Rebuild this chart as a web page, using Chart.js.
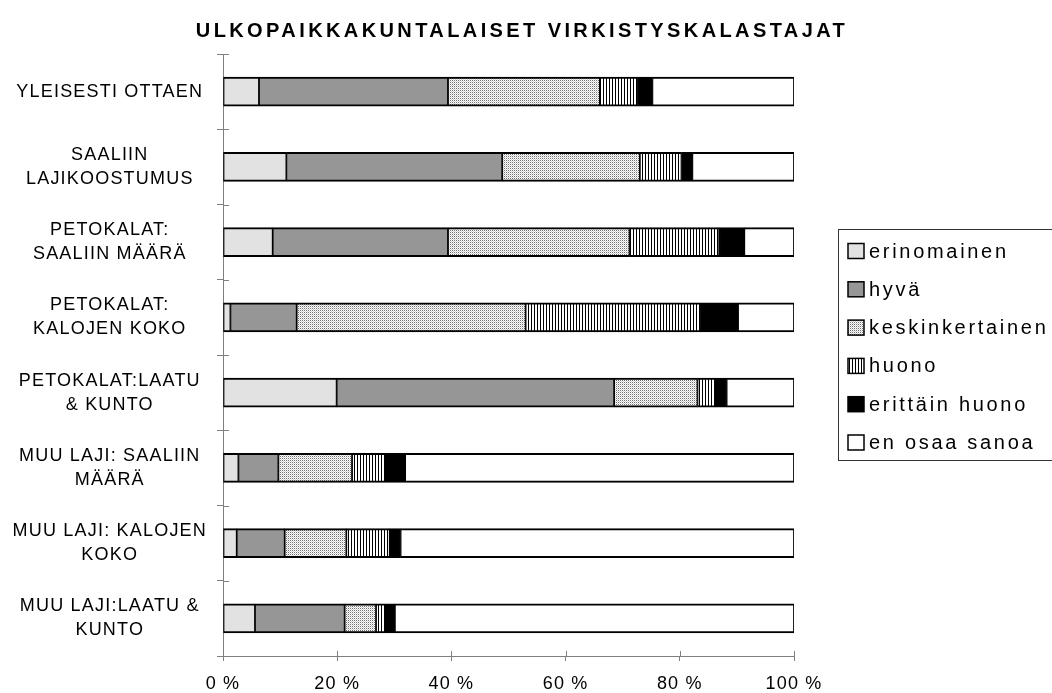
<!DOCTYPE html>
<html>
<head>
<meta charset="utf-8">
<script src="https://cdn.jsdelivr.net/npm/chart.js@4.4.1/dist/chart.umd.min.js"></script>
<style>
  html, body { margin: 0; padding: 0; background: #ffffff; }
</style>
</head>
<body>
<canvas id="kalastajat" width="1052" height="693"></canvas>
<script>
        // <![CDATA[

        var otsikko = "ULKOPAIKKAKUNTALAISET VIRKISTYSKALASTAJAT";

        var kysymykset = [
                "YLEISESTI OTTAEN",
                ["SAALIIN", "LAJIKOOSTUMUS"],
                ["PETOKALAT:", "SAALIIN MÄÄRÄ"],
                ["PETOKALAT:", "KALOJEN KOKO"],
                ["PETOKALAT:LAATU", "& KUNTO"],
                ["MUU LAJI: SAALIIN", "MÄÄRÄ"],
                ["MUU LAJI: KALOJEN", "KOKO"],
                ["MUU LAJI:LAATU &", "KUNTO"]
        ];

        var sarjat = ["erinomainen", "hyvä", "keskinkertainen", "huono", "erittäin huono", "en osaa sanoa"];

        // osuudet prosentteina, yksi arvo per kysymys
        var erinomainen   = [6.3, 11.1, 8.7, 1.3, 19.9, 2.7, 2.4, 5.6];
        var hyva          = [33.1, 37.8, 30.7, 11.6, 48.6, 7.0, 8.4, 15.7];
        var keskinkert    = [26.6, 24.1, 31.8, 40.1, 14.6, 12.9, 10.8, 5.5];
        var huono         = [6.6, 7.3, 15.7, 30.7, 3.2, 5.8, 7.6, 1.6];
        var erittainHuono = [2.6, 1.9, 4.4, 6.5, 1.9, 3.5, 1.9, 1.7];
        var enOsaa        = [24.8, 17.8, 8.7, 9.8, 11.8, 68.1, 68.9, 69.9];

        var prosentit = [0, 20, 40, 60, 80, 100];

        // rasterit: pisteet ja pystyviivat
        function teePisteet() {
                var c = document.createElement('canvas');
                c.width = 2; c.height = 2;
                var g = c.getContext('2d');
                g.fillStyle = "#ffffff";
                g.fillRect(0, 0, 2, 2);
                g.fillStyle = "#707070";
                g.fillRect(0, 0, 1, 1);
                g.fillStyle = "#d0d0d0";
                g.fillRect(1, 1, 1, 1);
                return g.createPattern(c, 'repeat');
        }
        function teeViivat() {
                var c = document.createElement('canvas');
                c.width = 3; c.height = 1;
                var g = c.getContext('2d');
                g.fillStyle = "#ffffff";
                g.fillRect(0, 0, 3, 1);
                g.fillStyle = "#000000";
                g.fillRect(0, 0, 1, 1);
                return g.createPattern(c, 'repeat');
        }

        var varit = ["#e2e2e2", "#969696", teePisteet(), teeViivat(), "#000000", "#ffffff"];
        var arvot = [erinomainen, hyva, keskinkert, huono, erittainHuono, enOsaa];

        var datasets = sarjat.map(function (nimi, i) {
                return {
                        label: nimi,
                        data: arvot[i],
                        backgroundColor: varit[i],
                        borderColor: "#000000",
                        borderWidth: { top: 2, bottom: 2, left: 1.2, right: 1.2 },
                        borderSkipped: false,
                        barThickness: 29
                };
        });

        var kirjaimet = {
                id: 'kirjaimet',
                beforeLayout: function (chart) { chart.ctx.letterSpacing = "1.2px"; },
                beforeDraw: function (chart) { chart.ctx.letterSpacing = "1.2px"; }
        };

        // otsikko, selite ja akselien sisäpuoliset väkäset
        var lisat = {
                id: 'lisat',
                afterDraw: function (chart) {
                        var ctx = chart.ctx;
                        var ca = chart.chartArea;
                        ctx.save();

                        ctx.strokeStyle = "#808080";
                        ctx.lineWidth = 1;
                        ctx.beginPath();
                        var ys = chart.scales.y;
                        for (var i = 0; i <= kysymykset.length; i++) {
                                var py = Math.round(ys.getPixelForValue(i - 0.5)) + 0.5;
                                ctx.moveTo(ca.left, py);
                                ctx.lineTo(ca.left + 6, py);
                        }
                        var xs = chart.scales.x;
                        prosentit.forEach(function (v) {
                                var px = Math.round(xs.getPixelForValue(v)) + 0.5;
                                ctx.moveTo(px, ca.bottom - 5);
                                ctx.lineTo(px, ca.bottom);
                        });
                        ctx.stroke();

                        ctx.fillStyle = "#000000";
                        ctx.letterSpacing = "3.4px";
                        ctx.font = "bold 20px 'Liberation Sans', Arial, sans-serif";
                        ctx.textAlign = "center";
                        ctx.textBaseline = "middle";
                        ctx.fillText(otsikko, 522, 31);

                        var lx = 838, ly = 229;
                        ctx.strokeStyle = "#333333";
                        ctx.strokeRect(lx + 0.5, ly + 0.5, 240, 231);
                        ctx.font = "20px 'Liberation Sans', Arial, sans-serif";
                        ctx.letterSpacing = "2.7px";
                        ctx.textAlign = "left";
                        chart.data.datasets.forEach(function (ds, i) {
                                var cy = 251 + i * 38.3;
                                ctx.fillStyle = ds.backgroundColor;
                                ctx.fillRect(848, cy - 7.5, 16, 15);
                                ctx.strokeStyle = "#000000";
                                ctx.lineWidth = 1.5;
                                ctx.strokeRect(848, cy - 7.5, 16, 15);
                                ctx.fillStyle = "#000000";
                                ctx.fillText(ds.label, 869, cy + 1);
                        });
                        ctx.restore();
                }
        };

        var kuvaaja = {
          type: 'bar',
          data: {
            labels: kysymykset,
            datasets: datasets
          },
          options: {
            indexAxis: 'y',
            responsive: false,
            animation: false,
            devicePixelRatio: 1,
            layout: {
              padding: { top: 54, right: 258, left: 0, bottom: 0 }
            },
            plugins: {
              legend: { display: false },
              title: { display: false },
              tooltip: { enabled: false }
            },
            scales: {
              x: {
                stacked: true,
                min: 0,
                max: 100,
                afterFit: function (scale) { scale.height = 37; },
                afterBuildTicks: function (scale) {
                        scale.ticks = prosentit.map(function (v) { return { value: v }; });
                },
                ticks: {
                  color: "#000000",
                  padding: 12,
                  maxRotation: 0,
                  font: { family: "'Liberation Sans', Arial, sans-serif", size: 18 },
                  callback: function (v) { return v + " %"; }
                },
                grid: { drawOnChartArea: false, color: "#808080", tickLength: 5 },
                border: { color: "#808080" }
              },
              y: {
                stacked: true,
                afterFit: function (scale) { scale.width = 223; },
                ticks: {
                  color: "#000000",
                  padding: 10,
                  crossAlign: 'center',
                  font: { family: "'Liberation Sans', Arial, sans-serif", size: 18, lineHeight: 1.33 }
                },
                grid: { drawOnChartArea: false, color: "#808080", tickLength: 6, offset: true },
                border: { color: "#808080" }
              }
            }
          },
          plugins: [kirjaimet, lisat]
        };

        var ctx = document.getElementById("kalastajat").getContext("2d");
        var kalastajaKaavio = new Chart(ctx, kuvaaja);
        // ]]>
</script>
</body>
</html>
